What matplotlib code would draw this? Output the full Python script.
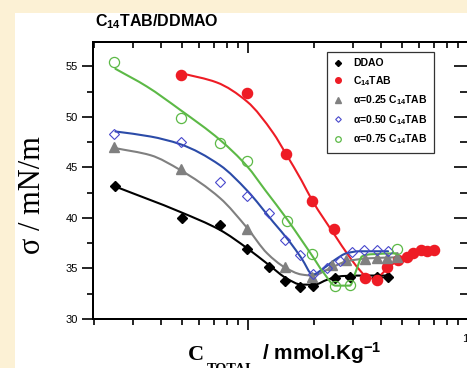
import numpy as np
import matplotlib
matplotlib.use("Agg")
import matplotlib.pyplot as plt
from matplotlib.patches import Rectangle, PathPatch
from matplotlib.path import Path
from matplotlib.ticker import MultipleLocator, FixedLocator, FixedFormatter, LogLocator, NullFormatter

plt.rcParams['font.family'] = ['Liberation Sans', 'DejaVu Sans']
plt.rcParams['mathtext.fontset'] = 'custom'
plt.rcParams['mathtext.rm'] = 'Liberation Sans'
plt.rcParams['mathtext.bf'] = 'Liberation Sans:bold'
plt.rcParams['mathtext.it'] = 'Liberation Sans:italic'

# ---- measured surface tension (mN/m) vs total concentration (mmol/kg) ----
ddao_c = [0.249, 0.50, 0.746, 0.99, 1.246, 1.47, 1.72, 1.97, 2.49, 2.91, 3.85, 4.34]
ddao_s = [43.2, 40.0, 39.3, 36.9, 35.1, 33.8, 33.2, 33.3, 34.1, 34.2, 34.2, 34.2]

c14_c = [0.494, 0.99, 1.48, 1.96, 2.46, 3.40, 3.84, 4.30, 4.82, 5.27, 5.64, 6.10, 6.53, 7.03]
c14_s = [54.1, 52.35, 46.3, 41.7, 38.9, 34.1, 33.9, 35.1, 35.8, 36.1, 36.5, 36.8, 36.7, 36.8]

a25_c = [0.246, 0.494, 0.99, 1.47, 1.95, 2.40, 2.80, 3.40, 3.84, 4.30, 4.73]
a25_s = [47.06, 44.85, 38.9, 35.1, 34.2, 35.3, 35.8, 35.9, 36.0, 36.0, 36.1]

a50_c = [0.246, 0.494, 0.746, 0.99, 1.246, 1.47, 1.72, 1.97, 2.28, 2.62, 2.97, 3.35, 3.85, 4.33]
a50_s = [48.3, 47.46, 43.6, 42.2, 40.5, 37.8, 36.3, 34.5, 35.0, 35.7, 36.6, 36.8, 36.8, 36.7]

a75_c = [0.246, 0.494, 0.746, 0.99, 1.50, 1.95, 2.49, 2.90, 4.73]
a75_s = [55.4, 49.9, 47.4, 45.6, 39.7, 36.4, 33.3, 33.4, 36.9]

# ---- fitted guide curves (knots) ----
ddao_fit_c = [0.249, 0.49, 0.746, 0.99, 1.25, 1.5, 1.75, 2.0, 2.3, 2.7, 3.5, 4.34]
ddao_fit_s = [43.1, 40.6, 38.8, 37.0, 35.3, 34.0, 33.4, 33.4, 33.9, 34.25, 34.3, 34.3]

c14_fit_c = [0.5, 0.72, 0.99, 1.3, 1.48, 1.75, 1.96, 2.46, 2.9, 3.2, 3.55, 3.9, 4.3, 4.8, 5.3, 6.0, 7.2]
c14_fit_s = [54.3, 53.4, 51.5, 48.4, 46.4, 43.7, 41.7, 38.4, 36.1, 34.9, 34.0, 34.2, 35.0, 35.8, 36.2, 36.7, 36.9]

a25_fit_c = [0.249, 0.36, 0.49, 0.746, 0.99, 1.22, 1.47, 1.75, 1.95, 2.4, 2.8, 3.5, 4.73]
a25_fit_s = [46.9, 46.2, 44.75, 41.95, 39.0, 36.5, 35.1, 34.4, 34.3, 35.1, 35.7, 36.0, 36.1]

a50_fit_c = [0.249, 0.36, 0.49, 0.746, 0.99, 1.3, 1.55, 1.75, 1.97, 2.2, 2.5, 2.8, 3.2, 4.33]
a50_fit_s = [48.55, 48.05, 47.3, 45.2, 42.7, 39.6, 37.6, 36.0, 34.4, 35.0, 35.9, 36.5, 36.7, 36.7]

a75_fit_c = [0.249, 0.346, 0.49, 0.746, 0.99, 1.2, 1.5, 1.75, 1.95, 2.2, 2.5, 2.9, 3.1, 3.3, 3.6, 4.73]
a75_fit_s = [54.75, 53.0, 50.7, 47.7, 45.1, 42.7, 39.9, 37.8, 36.3, 34.6, 33.3, 33.3, 34.8, 36.2, 36.4, 36.5]

W, H = 467, 368
fig = plt.figure(figsize=(W / 100, H / 100), dpi=100, facecolor='#FCF1D5')
fig.patches.append(Rectangle((15 / W, 0), 1, (H - 13) / H, transform=fig.transFigure,
                             facecolor='white', edgecolor='none', zorder=-10))

ax = fig.add_axes([93 / W, 1 - 319 / H, 375 / W, 277 / H])
ax.set_facecolor('none')
ax.set_xscale('log')

black = '#000000'
red = '#EE1C25'
gray = '#808080'
blue_line = '#2B4BA8'
blue_mk = '#4848CC'
green = '#5CB946'


def smooth_curve(ax, xs, ys, color, lw=1.5):
    """Monotone cubic (PCHIP-style tangents) drawn as Bezier segments,
    built in log-x space so it is smooth on the log axis."""
    u = np.log10(np.asarray(xs, float))
    v = np.asarray(ys, float)
    n = len(u)
    h = np.diff(u)
    d = np.diff(v) / h
    m = np.zeros(n)
    m[0], m[-1] = d[0], d[-1]
    for i in range(1, n - 1):
        if d[i - 1] * d[i] > 0:
            w1 = 2 * h[i] + h[i - 1]
            w2 = h[i] + 2 * h[i - 1]
            m[i] = (w1 + w2) / (w1 / d[i - 1] + w2 / d[i])
    verts = [(u[0], v[0])]
    codes = [Path.MOVETO]
    for i in range(n - 1):
        verts += [(u[i] + h[i] / 3, v[i] + m[i] * h[i] / 3),
                  (u[i + 1] - h[i] / 3, v[i + 1] - m[i + 1] * h[i] / 3),
                  (u[i + 1], v[i + 1])]
        codes += [Path.CURVE4] * 3
    verts = [(10 ** a, b) for a, b in verts]
    ax.add_patch(PathPatch(Path(verts, codes), facecolor='none', edgecolor=color,
                           lw=lw, zorder=3, capstyle='round', joinstyle='round'))


smooth_curve(ax, ddao_fit_c, ddao_fit_s, black)
smooth_curve(ax, c14_fit_c, c14_fit_s, red)
smooth_curve(ax, a25_fit_c, a25_fit_s, gray)
smooth_curve(ax, a50_fit_c, a50_fit_s, blue_line)
smooth_curve(ax, a75_fit_c, a75_fit_s, green)

ax.plot(ddao_c, ddao_s, ls='none', marker='D', ms=5.6, color=black, zorder=4, label='DDAO')
ax.plot(c14_c, c14_s, ls='none', marker='o', ms=7.3, color=red, zorder=4,
        label=r'C$_{\mathbf{14}}$TAB')
ax.plot(a25_c, a25_s, ls='none', marker='^', ms=7, color=gray, zorder=4,
        label=r'α=0.25 C$_{\mathbf{14}}$TAB')
ax.plot(a50_c, a50_s, ls='none', marker='D', ms=5.2, mfc='none', mec=blue_mk, mew=0.8,
        zorder=4, label=r'α=0.50 C$_{\mathbf{14}}$TAB')
ax.plot(a75_c, a75_s, ls='none', marker='o', ms=7.3, mfc='none', mec=green, mew=0.9,
        zorder=4, label=r'α=0.75 C$_{\mathbf{14}}$TAB')

xlim = (0.197, 10.0)
ylim = (30, 57.4)
ax.set_xlim(*xlim)
ax.set_ylim(*ylim)

# left / bottom ticks point outward
ax.yaxis.set_major_locator(MultipleLocator(5))
ax.yaxis.set_minor_locator(MultipleLocator(2.5))
ax.xaxis.set_major_locator(FixedLocator([1, 10]))
ax.xaxis.set_major_formatter(FixedFormatter(['', '10']))
ax.xaxis.set_minor_locator(LogLocator(base=10, subs=range(2, 10)))
ax.xaxis.set_minor_formatter(NullFormatter())
ax.tick_params(which='major', direction='out', length=8, width=1.2, labelsize=8, pad=3,
               top=False, right=False)
ax.tick_params(which='minor', direction='out', length=4, width=1.2, top=False, right=False)
for s in ax.spines.values():
    s.set_linewidth(1.3)

leg = ax.legend(loc='upper left', bbox_to_anchor=(0.624, 0.964), borderaxespad=0,
                frameon=True, fancybox=False, edgecolor='#333333', framealpha=1,
                markerscale=0.55, handlelength=1.0, handletextpad=0.9, labelspacing=0.55,
                borderpad=0.6, prop={'weight': 'bold', 'size': 7.5})
leg.get_frame().set_linewidth(0.9)

# top / right ticks point inward
axt = ax.twiny()
axt.set_xscale('log')
axt.set_xlim(*xlim)
axt.xaxis.set_major_locator(FixedLocator([1, 10]))
axt.xaxis.set_minor_locator(LogLocator(base=10, subs=range(2, 10)))
axt.tick_params(which='major', direction='in', length=8, width=1.2, labeltop=False)
axt.tick_params(which='minor', direction='in', length=4, width=1.2, labeltop=False)
axr = ax.twinx()
axr.set_ylim(*ylim)
axr.yaxis.set_major_locator(MultipleLocator(5))
axr.yaxis.set_minor_locator(MultipleLocator(2.5))
axr.tick_params(which='major', direction='in', length=10, width=1.2, labelright=False)
axr.tick_params(which='minor', direction='in', length=6, width=1.2, labelright=False)
for a in (axt, axr):
    for s in a.spines.values():
        s.set_linewidth(1.3)

# title
fig.text(95 / W, 1 - 26 / H, r'C$_{\mathbf{14}}$TAB/DDMAO', fontsize=11.5, fontweight='bold',
         ha='left', va='baseline')

# axis labels
fig.text(32 / W, 1 - 195 / H, 'σ / mN/m', family=['Liberation Serif', 'DejaVu Serif'],
         fontsize=22, rotation=90, ha='center', va='center')
fig.text(188 / W, 1 - 360 / H, 'C', family=['Liberation Serif', 'DejaVu Serif'],
         fontweight='bold', fontsize=16, ha='left', va='baseline')
fig.text(207 / W, 1 - 373 / H, 'TOTAL', family=['Liberation Serif', 'DejaVu Serif'],
         fontweight='bold', fontsize=10.3, ha='left', va='baseline')
fig.text(262 / W, 1 - 360 / H, r'/ mmol.Kg$^{\mathbf{-1}}$', fontweight='bold',
         fontsize=15, ha='left', va='baseline')

fig.savefig('out.png', dpi=100, facecolor=fig.get_facecolor())
